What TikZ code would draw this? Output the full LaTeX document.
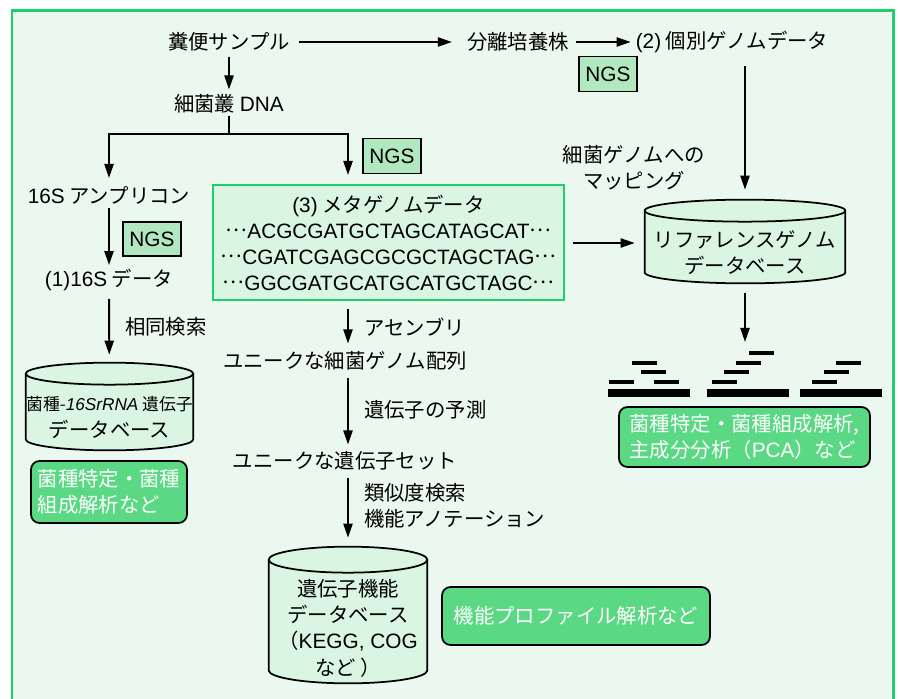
\documentclass[tikz,border=0pt]{standalone}
\usepackage{fontspec}
\setmainfont{Noto Sans CJK JP}
\newfontfamily\en{Liberation Sans}[Scale=1.02]
\usetikzlibrary{
    arrows.meta,
    backgrounds,
    calc,
    positioning
}
\definecolor{framegreen}{RGB}{28,208,108}
\definecolor{papergreen}{RGB}{235,248,239}
\definecolor{boxgreen}{RGB}{218,245,226}
\definecolor{ngsgreen}{RGB}{178,232,192}
\definecolor{resultgreen}{RGB}{90,216,132}
\newcommand{\bodyfont}{\fontsize{11.6}{15}\selectfont}
\newcommand{\middots}{\raisebox{0.3em}{…}}
\tikzset{
    % Text styles
    plain text/.style={
        inner sep=1pt,
        align=center
    },
    side label/.style={
        inner sep=1pt,
        anchor=west,
        align=left
    },
    % Box styles
    ngs box/.style={
        draw=black,
        fill=ngsgreen,
        line width=0.9pt,
        minimum width=1.16cm,
        minimum height=0.7cm,
        inner sep=0pt,
        font=\en\bodyfont
    },
    meta box/.style={
        draw=framegreen,
        fill=boxgreen,
        line width=1.5pt,
        minimum width=7.02cm,
        minimum height=2.3cm,
        inner sep=0pt,
        align=center,
        font=\fontsize{11.6}{14.8}\selectfont
    },
    result box/.style={
        draw=black,
        fill=resultgreen,
        text=white,
        line width=1pt,
        rounded corners=0.17cm,
        inner sep=0pt,
        align=left
    },
    db node/.style={
        inner sep=0pt,
        align=center
    },
    db line/.style={
        draw=black,
        fill=boxgreen,
        line width=1pt
    },
    % Arrow styles
    flow line/.style={
        line width=1.1pt
    },
    flow arrow/.style={
        flow line,
        -{Triangle[length=8pt,width=5.2pt]}
    }
}
% cylinder round a db node: #1 = node, #2 = half height of the ellipse
\newcommand{\dbcylinder}[2]{%
    \path[db line] let \p1=(#1.north west), \p2=(#1.south east),
        \n1={0.5*(\x2-\x1)} in
        (\x1,\y1+#2) -- (\x1,\y2+#2)
        arc[start angle=180, end angle=360, x radius=\n1, y radius=#2]
        -- (\x2,\y1+#2)
        arc[start angle=0, end angle=180, x radius=\n1, y radius=#2]
        -- cycle;
    \draw[db line, fill=none] let \p1=(#1.north west), \p2=(#1.south east),
        \n1={0.5*(\x2-\x1)} in
        (\x1,\y1+#2)
        arc[start angle=180, end angle=360, x radius=\n1, y radius=#2];
}

\begin{document}
\begin{tikzpicture}[x=0.02cm, y=-0.02cm, font=\bodyfont]
    \useasboundingbox (0,0) rectangle (900,699);
    % Frame
    \begin{scope}[on background layer]
        \draw[draw=framegreen, fill=papergreen, line width=1.7pt] (12,10.5) rectangle (893.5,730);
    \end{scope}

    % Top row
    \node[plain text] (feces) at (229,42) {糞便サンプル};
    \node[plain text] (isolate) at (518,42) {分離培養株};
    \node[plain text] (indiv) at (732,42) {{\en(2)} 個別ゲノムデータ};
    \node[ngs box] (ngsA) at (608,74) {NGS};
    \draw[flow arrow, shorten <=0.14cm, shorten >=0.26cm] (feces) -- (isolate);
    \draw[flow arrow, shorten <=0.1cm, shorten >=0.06cm] (isolate) -- (indiv);

    % DNA and fork
    \node[plain text] (dna) at (229,104) {細菌叢 {\en DNA}};
    \draw[flow arrow, shorten <=0.06cm, shorten >=0.06cm] (feces) -- (dna);
    \coordinate (fork) at (229,134);
    \coordinate (forkR) at (348,134);
    \node[ngs box] (ngsB) at (392,156) {NGS};

    % 16S branch
    \node[plain text] (amplicon) at (109,195) {{\en 16S} アンプリコン};
    \node[ngs box, minimum height=0.68cm] (ngsC) at (152,239) {NGS};
    \node[plain text] (data16) at (109,280) {{\en(1)16S} データ};
    \node[db node, minimum width=3.34cm, minimum height=1.3cm] (db16) at (109.5,417.5)
        {{\fontsize{9.6}{12.6}\selectfont 菌種-{\en\itshape 16SrRNA} 遺伝子}\\データベース};
    \node[side label] (homology) at (123,327) {相同検索};
    \node[result box, minimum width=3.12cm, minimum height=1.24cm] (res16) at (109,492)
        {菌種特定・菌種\\組成解析など};
    \draw[flow line] (dna) -- (fork);
    \draw[flow arrow, shorten >=0.12cm] (fork) -| (amplicon);
    \draw[flow arrow, shorten >=0.2cm] (fork) -- (forkR) -- (forkR |- 0,185);
    \draw[flow arrow, shorten <=0.04cm, shorten >=0.04cm] (amplicon) -- (data16);
    \draw[flow arrow, shorten <=0.12cm, shorten >=0.6cm] (data16) -- (db16);

    % Metagenome branch
    \node[meta box] (meta) at (388.5,242.5)
        {{\en(3)} メタゲノムデータ\\
         \middots{\en ACGCGATGCTAGCATAGCAT}\middots\\
         \middots{\en CGATCGAGCGCGCTAGCTAG}\middots\\
         \middots{\en GGCGATGCATGCATGCTAGC}\middots};
    \coordinate (spine) at (348,0);
    \node[plain text] (uniqgenome) at (345,361) {ユニークな細菌ゲノム配列};
    \node[plain text] (uniqgene) at (345,461) {ユニークな遺伝子セット};
    \node[db node, minimum width=3.16cm, minimum height=2.2cm] (funcdb) at (348,628)
        {遺伝子機能\\データベース\\（{\en KEGG, COG}\\など ）};
    \node[side label] (assemble) at (362,327) {アセンブリ};
    \node[side label] (predict) at (362,410) {遺伝子の予測};
    \node[side label] (annotate) at (362,506) {類似度検索\\機能アノテーション};
    \node[result box, minimum width=5.36cm, minimum height=1.16cm, align=center] (resfunc) at (576,616)
        {機能プロファイル解析など};
    \draw[flow arrow, shorten <=0.16cm, shorten >=0.12cm] (meta.south -| spine) -- (uniqgenome.north -| spine);
    \draw[flow arrow, shorten <=0.1cm, shorten >=0.1cm] (uniqgenome.south -| spine) -- (uniqgene.north -| spine);
    \draw[flow arrow, shorten <=0.1cm, shorten >=0.7cm] (uniqgene.south -| spine) -- (funcdb.north);

    % Reference genome branch
    \node[plain text] (mapping) at (634,168) {細菌ゲノムへの\\マッピング};
    \node[db node, minimum width=4cm, minimum height=1.22cm] (refdb) at (745,252.5)
        {リファレンスゲノム\\データベース};
    \coordinate (readtop) at (745,342);
    \node[result box, minimum width=5.02cm, minimum height=1.2cm, inner xsep=0.1cm] (resref) at (744.5,437)
        {菌種特定・菌種組成解析,\\主成分分析（{\en PCA}）など};
    \draw[flow arrow, shorten <=0.16cm, shorten >=0.2cm] (meta.east |- 0,243) -- (refdb.west |- 0,243);
    \draw[flow arrow, shorten <=0.22cm, shorten >=0.64cm] (indiv.south -| refdb) -- (refdb.north);
    \draw[flow arrow, shorten <=0.2cm] (refdb.south) -- (readtop);

    % Cylinders
    \begin{scope}[on background layer]
        \dbcylinder{db16}{0.22cm}
        \dbcylinder{refdb}{0.22cm}
        \dbcylinder{funcdb}{0.26cm}
    \end{scope}

    % Mapped reads
    \foreach \x in {608,707,800} {
        \fill (\x,389) rectangle ++(82,8);
    }
    \foreach \x/\y in {609/382,654/382,641/372,632/363,712/382,724/372,736/363,749/353,812/382,824/372,836/363} {
        \fill (\x,{\y-2}) rectangle ++(25,4);
    }
\end{tikzpicture}
\end{document}
